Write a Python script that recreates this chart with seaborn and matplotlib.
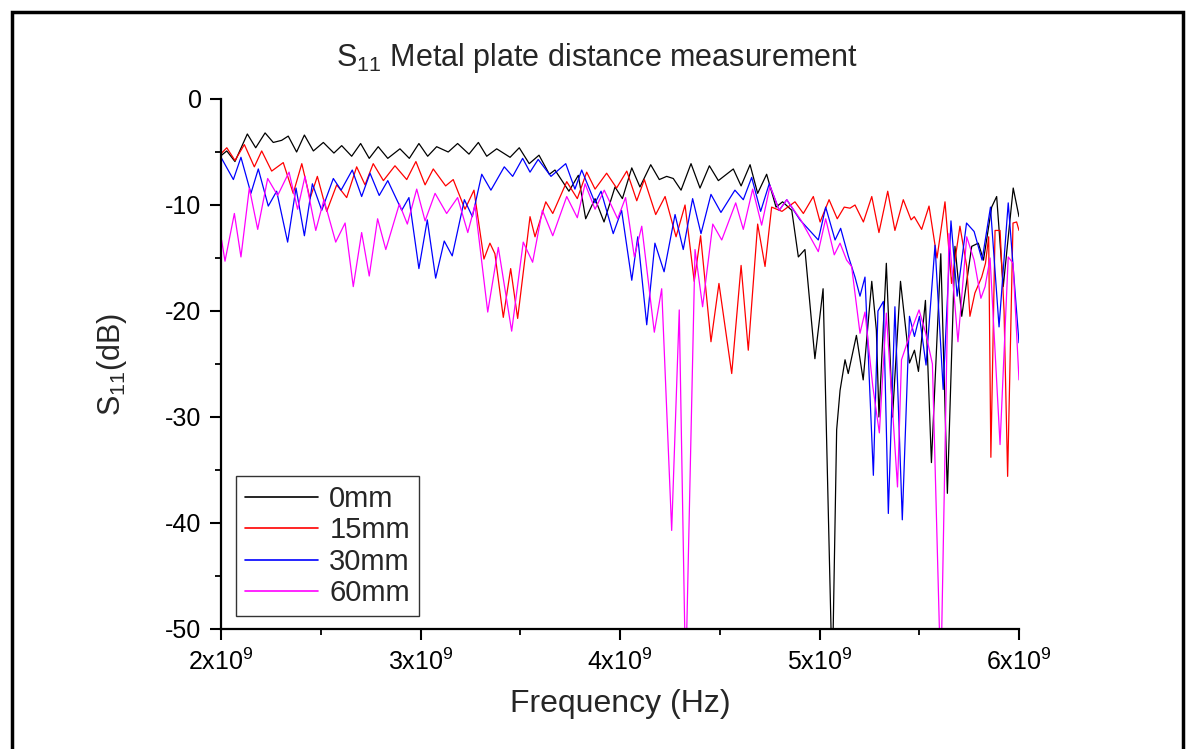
import numpy as np
import pandas as pd
import seaborn as sns
import matplotlib
matplotlib.use("Agg")
import matplotlib.pyplot as plt
from matplotlib.patches import Rectangle
from matplotlib.lines import Line2D

# ---------------- data (frequency in GHz, S11 in dB) ----------------
f_0mm = [2.003, 2.029, 2.070, 2.132, 2.174, 2.221, 2.262, 2.304, 2.337, 2.379, 2.418, 2.463, 2.513,
         2.566, 2.605, 2.655, 2.700, 2.743, 2.788, 2.836, 2.897, 2.944, 2.992, 3.036, 3.081, 3.139,
         3.186, 3.243, 3.290, 3.332, 3.382, 3.449, 3.495, 3.545, 3.594, 3.646, 3.674, 3.744, 3.791,
         3.828, 3.875, 3.920, 3.975, 4.012, 4.059, 4.100, 4.154, 4.197, 4.234, 4.267, 4.306, 4.356,
         4.401, 4.448, 4.493, 4.568, 4.607, 4.652, 4.690, 4.735, 4.782, 4.815, 4.861, 4.894, 4.927,
         4.977, 5.018, 5.064, 5.086, 5.103, 5.128, 5.144, 5.185, 5.219, 5.262, 5.285, 5.298, 5.335,
         5.366, 5.406, 5.451, 5.476, 5.496, 5.531, 5.561, 5.608, 5.641, 5.679, 5.713, 5.763, 5.796,
         5.822, 5.863, 5.888, 5.921, 5.971, 6.000]
s_0mm = [-5.3, -4.9, -5.9, -3.3, -4.6, -3.2, -4.1, -3.9, -3.5, -5.0, -3.4, -4.9, -4.1,
         -5.1, -4.4, -5.4, -4.2, -5.6, -4.5, -5.6, -4.7, -5.6, -4.2, -5.4, -4.5, -5.0,
         -4.2, -5.2, -4.1, -5.4, -4.7, -5.5, -4.6, -6.1, -5.3, -7.1, -6.7, -8.7, -7.2,
         -11.3, -9.4, -11.6, -8.3, -9.4, -6.5, -8.3, -6.2, -7.6, -7.3, -7.5, -8.6, -6.1,
         -8.4, -6.3, -7.7, -6.6, -8.2, -6.2, -8.9, -7.1, -10.2, -9.7, -10.5, -14.9, -14.2,
         -24.5, -17.9, -55.0, -31.2, -27.5, -24.6, -25.9, -22.3, -26.5, -17.2, -21.8, -30.0, -15.5,
         -30.0, -17.2, -24.9, -23.7, -25.7, -19.0, -34.3, -14.6, -37.2, -13.9, -20.5, -13.9, -13.6,
         -15.2, -10.2, -9.2, -17.7, -8.4, -11.1]

f_15mm = [2.003, 2.029, 2.070, 2.117, 2.167, 2.204, 2.254, 2.312, 2.362, 2.405, 2.446, 2.483, 2.530,
          2.580, 2.630, 2.680, 2.722, 2.763, 2.814, 2.872, 2.931, 2.977, 3.023, 3.064, 3.126, 3.164,
          3.223, 3.268, 3.318, 3.348, 3.373, 3.415, 3.452, 3.487, 3.549, 3.574, 3.628, 3.663, 3.733,
          3.786, 3.833, 3.875, 3.933, 3.983, 4.034, 4.084, 4.122, 4.179, 4.226, 4.281, 4.326, 4.372,
          4.404, 4.456, 4.496, 4.560, 4.607, 4.643, 4.690, 4.727, 4.760, 4.812, 4.877, 4.919, 4.969,
          5.003, 5.048, 5.089, 5.124, 5.153, 5.178, 5.220, 5.262, 5.298, 5.342, 5.378, 5.420, 5.459,
          5.475, 5.512, 5.549, 5.589, 5.629, 5.662, 5.704, 5.738, 5.754, 5.779, 5.813, 5.832, 5.848,
          5.859, 5.880, 5.905, 5.925, 5.943, 5.970, 5.988, 6.000]
s_15mm = [-5.1, -4.6, -5.8, -4.3, -6.4, -4.9, -6.8, -6.0, -8.9, -6.1, -9.4, -7.3, -10.6,
          -8.1, -9.3, -6.4, -8.1, -6.1, -7.7, -6.3, -7.6, -5.9, -8.1, -6.6, -8.2, -7.6,
          -10.4, -8.6, -15.1, -13.6, -14.6, -20.6, -16.0, -20.7, -11.1, -13.0, -9.7, -10.8, -7.8,
          -9.4, -6.9, -8.5, -7.0, -8.4, -6.8, -9.6, -7.6, -10.9, -9.2, -13.0, -10.0, -17.2,
          -12.9, -22.9, -17.4, -25.9, -15.7, -23.7, -11.8, -15.8, -10.2, -10.6, -9.7, -10.8, -9.2,
          -11.6, -9.5, -11.3, -10.2, -10.3, -10.0, -11.6, -9.2, -12.6, -8.7, -12.4, -9.5, -11.4,
          -11.1, -12.3, -10.1, -15.0, -9.7, -17.4, -12.0, -15.8, -20.5, -18.3, -16.8, -15.5, -13.0,
          -33.8, -12.4, -12.4, -20.0, -35.6, -11.7, -11.6, -12.4]

f_30mm = [2.003, 2.062, 2.100, 2.150, 2.187, 2.237, 2.279, 2.334, 2.376, 2.418, 2.458, 2.505, 2.563,
          2.602, 2.658, 2.705, 2.747, 2.793, 2.836, 2.906, 2.942, 2.992, 3.034, 3.076, 3.119, 3.159,
          3.220, 3.260, 3.307, 3.353, 3.420, 3.462, 3.512, 3.549, 3.590, 3.654, 3.728, 3.774, 3.808,
          3.875, 3.905, 3.966, 4.008, 4.059, 4.089, 4.134, 4.175, 4.221, 4.276, 4.317, 4.364, 4.406,
          4.456, 4.506, 4.576, 4.618, 4.660, 4.705, 4.748, 4.798, 4.836, 4.902, 4.994, 5.031, 5.078,
          5.106, 5.144, 5.178, 5.203, 5.228, 5.270, 5.293, 5.320, 5.345, 5.378, 5.415, 5.451, 5.476,
          5.501, 5.534, 5.579, 5.620, 5.659, 5.690, 5.737, 5.775, 5.815, 5.857, 5.900, 5.946, 6.000]
s_30mm = [-5.6, -7.6, -5.5, -8.9, -6.6, -10.1, -8.7, -13.5, -8.4, -12.9, -8.0, -10.5, -7.5,
          -8.6, -6.7, -9.2, -7.0, -9.1, -7.7, -10.5, -9.3, -16.0, -11.4, -16.9, -13.4, -14.8,
          -9.5, -11.1, -7.1, -8.6, -6.4, -7.3, -5.6, -6.9, -5.7, -7.3, -6.1, -8.5, -6.7,
          -9.8, -8.7, -12.7, -10.5, -17.1, -13.0, -21.3, -13.6, -16.3, -10.9, -14.2, -9.4, -12.7,
          -9.0, -10.7, -8.6, -9.5, -7.4, -10.6, -8.0, -10.5, -9.5, -11.4, -13.3, -10.2, -13.3,
          -12.2, -14.8, -16.8, -18.6, -16.8, -35.5, -20.0, -19.1, -39.1, -19.6, -39.7, -20.5, -22.4,
          -20.5, -25.1, -13.8, -27.4, -11.5, -18.6, -11.7, -12.5, -15.2, -10.2, -21.5, -9.8, -23.0]

f_60mm = [2.003, 2.020, 2.067, 2.100, 2.142, 2.184, 2.234, 2.284, 2.341, 2.384, 2.421, 2.475, 2.516,
          2.575, 2.622, 2.663, 2.705, 2.743, 2.785, 2.826, 2.894, 2.934, 2.981, 3.023, 3.073, 3.131,
          3.186, 3.237, 3.273, 3.337, 3.390, 3.457, 3.515, 3.562, 3.611, 3.663, 3.733, 3.786, 3.825,
          3.875, 3.921, 3.988, 4.028, 4.072, 4.109, 4.172, 4.209, 4.259, 4.297, 4.329, 4.376, 4.414,
          4.465, 4.510, 4.580, 4.618, 4.665, 4.710, 4.752, 4.798, 4.836, 4.906, 4.994, 5.031, 5.074,
          5.103, 5.136, 5.161, 5.203, 5.228, 5.267, 5.300, 5.335, 5.391, 5.411, 5.461, 5.499, 5.531,
          5.566, 5.608, 5.649, 5.694, 5.738, 5.775, 5.809, 5.830, 5.855, 5.905, 5.946, 5.970, 6.000]
s_60mm = [-13.3, -15.3, -10.8, -14.9, -8.4, -12.3, -7.5, -9.1, -6.9, -10.4, -7.3, -12.4, -9.5,
          -13.5, -11.7, -17.7, -12.6, -16.7, -11.3, -14.2, -9.9, -11.8, -8.5, -11.5, -8.9, -10.8,
          -9.3, -12.6, -10.0, -20.1, -14.0, -21.9, -13.5, -15.4, -10.5, -12.9, -9.2, -11.2, -8.0,
          -10.4, -8.6, -11.3, -9.3, -14.9, -12.0, -22.0, -17.9, -40.7, -19.9, -55.0, -14.2, -19.6,
          -11.8, -13.3, -9.8, -12.3, -8.5, -11.9, -8.2, -10.5, -9.5, -11.4, -14.4, -11.3, -14.7,
          -13.6, -15.2, -15.8, -22.1, -20.1, -27.1, -31.5, -20.2, -36.6, -24.6, -21.8, -19.9, -22.0,
          -25.0, -55.0, -12.7, -22.9, -13.0, -15.2, -18.8, -17.7, -15.0, -32.6, -14.9, -15.5, -26.5]

series_labels = ["0mm", "15mm", "30mm", "60mm"]
series_colors = ["#000000", "#ff0000", "#0000ff", "#ff00ff"]
x_ticks = [2e9, 3e9, 4e9, 5e9, 6e9]
x_tick_labels = ["2x10$^{9}$", "3x10$^{9}$", "4x10$^{9}$", "5x10$^{9}$", "6x10$^{9}$"]
y_ticks = [0, -10, -20, -30, -40, -50]

# ---------------- build table ----------------
freqs = [f_0mm, f_15mm, f_30mm, f_60mm]
vals = [s_0mm, s_15mm, s_30mm, s_60mm]
frames = []
for lab, f, s in zip(series_labels, freqs, vals):
    frames.append(pd.DataFrame({"freq": np.array(f) * 1e9, "s11": s, "dist": lab}))
df = pd.concat(frames, ignore_index=True)

# ---------------- style ----------------
sns.set_style("ticks")
plt.rcParams["font.family"] = ["Liberation Sans", "DejaVu Sans"]
plt.rcParams["mathtext.fontset"] = "custom"
plt.rcParams["mathtext.rm"] = "Liberation Sans"
plt.rcParams["mathtext.it"] = "Liberation Sans:italic"
plt.rcParams["mathtext.bf"] = "Liberation Sans:bold"

fig = plt.figure(figsize=(11.94, 7.49), dpi=100)
ax = fig.add_axes([221 / 1194, 1 - 629 / 749, (1019 - 221) / 1194, (629 - 99) / 749])

sns.lineplot(data=df, x="freq", y="s11", hue="dist", hue_order=series_labels,
             palette=dict(zip(series_labels, series_colors)), estimator=None, sort=False,
             linewidth=0.9, ax=ax, legend=False)

ax.set_xlim(2e9, 6e9)
ax.set_ylim(-50, 0)
ax.set_xticks(x_ticks)
ax.set_xticklabels(x_tick_labels)
ax.set_yticks(y_ticks)
ax.set_yticklabels([str(v) for v in y_ticks])
ax.set_xticks([2.5e9, 3.5e9, 4.5e9, 5.5e9], minor=True)
ax.set_yticks([-5, -15, -25, -35, -45], minor=True)

for side in ["top", "right"]:
    ax.spines[side].set_visible(False)
for side in ["left", "bottom"]:
    ax.spines[side].set_linewidth(1.6)
    ax.spines[side].set_color("black")

ax.tick_params(axis="both", which="major", direction="out", length=8, width=1.5,
               labelsize=18, colors="black", pad=6)
ax.tick_params(axis="both", which="minor", direction="out", length=4, width=1.3, colors="black")

ax.set_xlabel("Frequency (Hz)", fontsize=23, labelpad=10)
ax.set_ylabel("S$_{11}$(dB)", fontsize=22, labelpad=26)

fig.text(0.5, 1 - 58 / 749, "S$_{11}$ Metal plate distance measurement", fontsize=22,
         ha="center", va="center")

handles = [Line2D([0], [0], color=c, lw=1.2) for c in series_colors]
leg = ax.legend(handles, series_labels, loc="lower left",
                bbox_to_anchor=((236 - 221) / 798, (629 - 616) / 530),
                fontsize=21, frameon=True, fancybox=False, edgecolor="black",
                handlelength=2.5, handletextpad=0.4, labelspacing=0.12, borderpad=0.3,
                borderaxespad=0)
leg.get_frame().set_linewidth(1.0)

# outer frame
fig.patches.append(Rectangle((12 / 1194, -0.02), (1183 - 12) / 1194, 1.02 - 12 / 749,
                             transform=fig.transFigure, fill=False, edgecolor="black",
                             linewidth=2.5, zorder=10))

fig.savefig("out.png", dpi=100)
